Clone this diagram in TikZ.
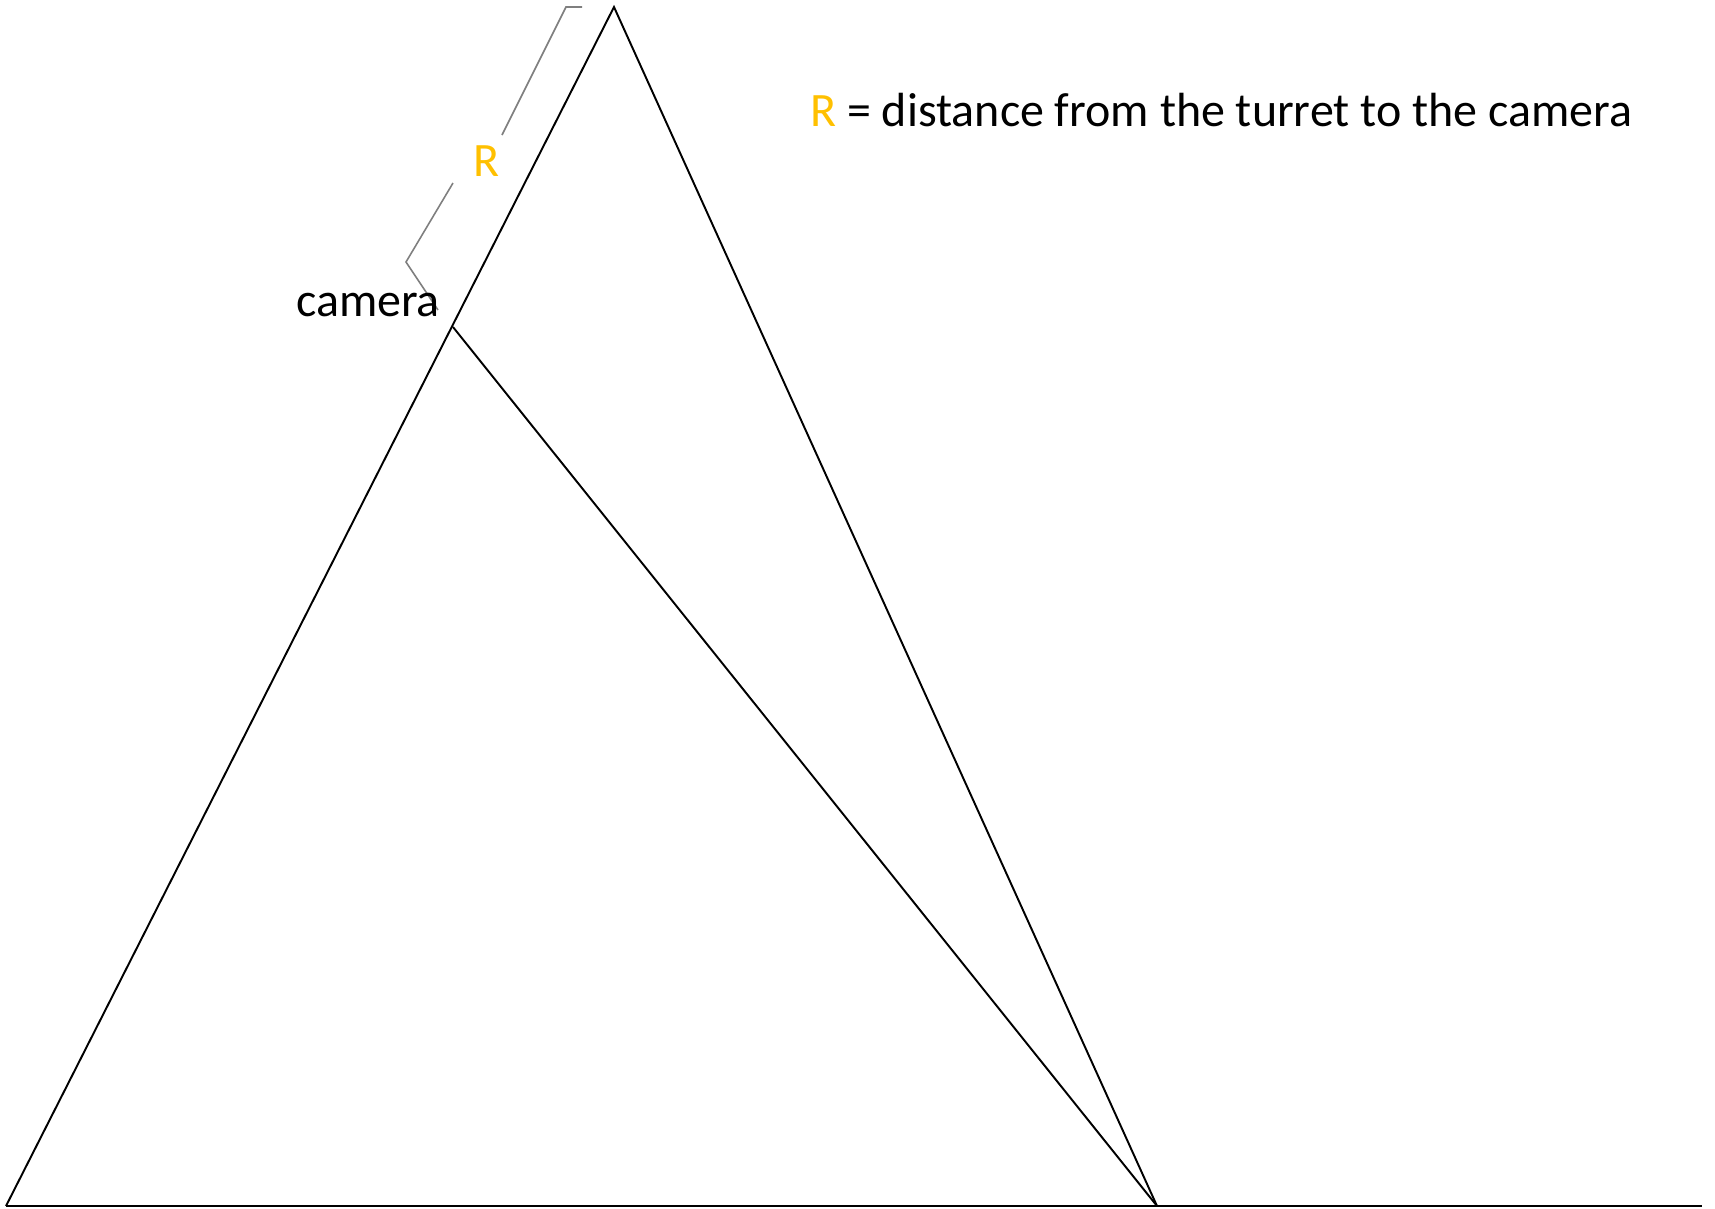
\documentclass[tikz,border=0pt]{standalone}
\usepackage{fontspec}
\setmainfont{Carlito}
\usetikzlibrary{positioning}
\definecolor{rgold}{HTML}{FFC000}
\definecolor{bracegray}{HTML}{7F7F7F}
\tikzset{
    edgeline/.style={draw=black, line width=1.1pt},
    braceline/.style={draw=bracegray, line width=0.9pt},
    labeltext/.style={font=\fontsize{27.3}{31}\selectfont, inner sep=0pt}
}

\begin{document}
\begin{tikzpicture}[x=0.02cm, y=-0.02cm]
\useasboundingbox (0,0) rectangle (1715,1208);
% triangle corners and camera point
\coordinate (base left) at (6,1206);
\coordinate (turret) at (614,7);
\coordinate (base right) at (1157,1206);
\coordinate (base end) at (1702,1206);
\coordinate (cam) at (453,327);
\draw[edgeline] (base left) -- (turret) -- (base right);
\draw[edgeline] (base left) -- (base end);
\draw[edgeline] (cam) -- (base right);
% bracket for R
\coordinate (br top) at (582,7);
\coordinate (br corner) at (566,7);
\coordinate (br gap1) at (502,135);
\coordinate (br gap2) at (453,183);
\coordinate (br knee) at (406,262);
\coordinate (br tip) at (438,310);
\draw[braceline] (br top) -- (br corner) -- (br gap1);
\draw[braceline] (br gap2) -- (br knee) -- (br tip);
\node[labeltext, text=rgold] (rlabel) at (487,161) {R};
\node[labeltext] (camlabel) at (368,305) {camera};
\node[labeltext, anchor=west] (legend) at (810,110) {\textcolor{rgold}{R} = distance from the turret to the camera};
\end{tikzpicture}
\end{document}
